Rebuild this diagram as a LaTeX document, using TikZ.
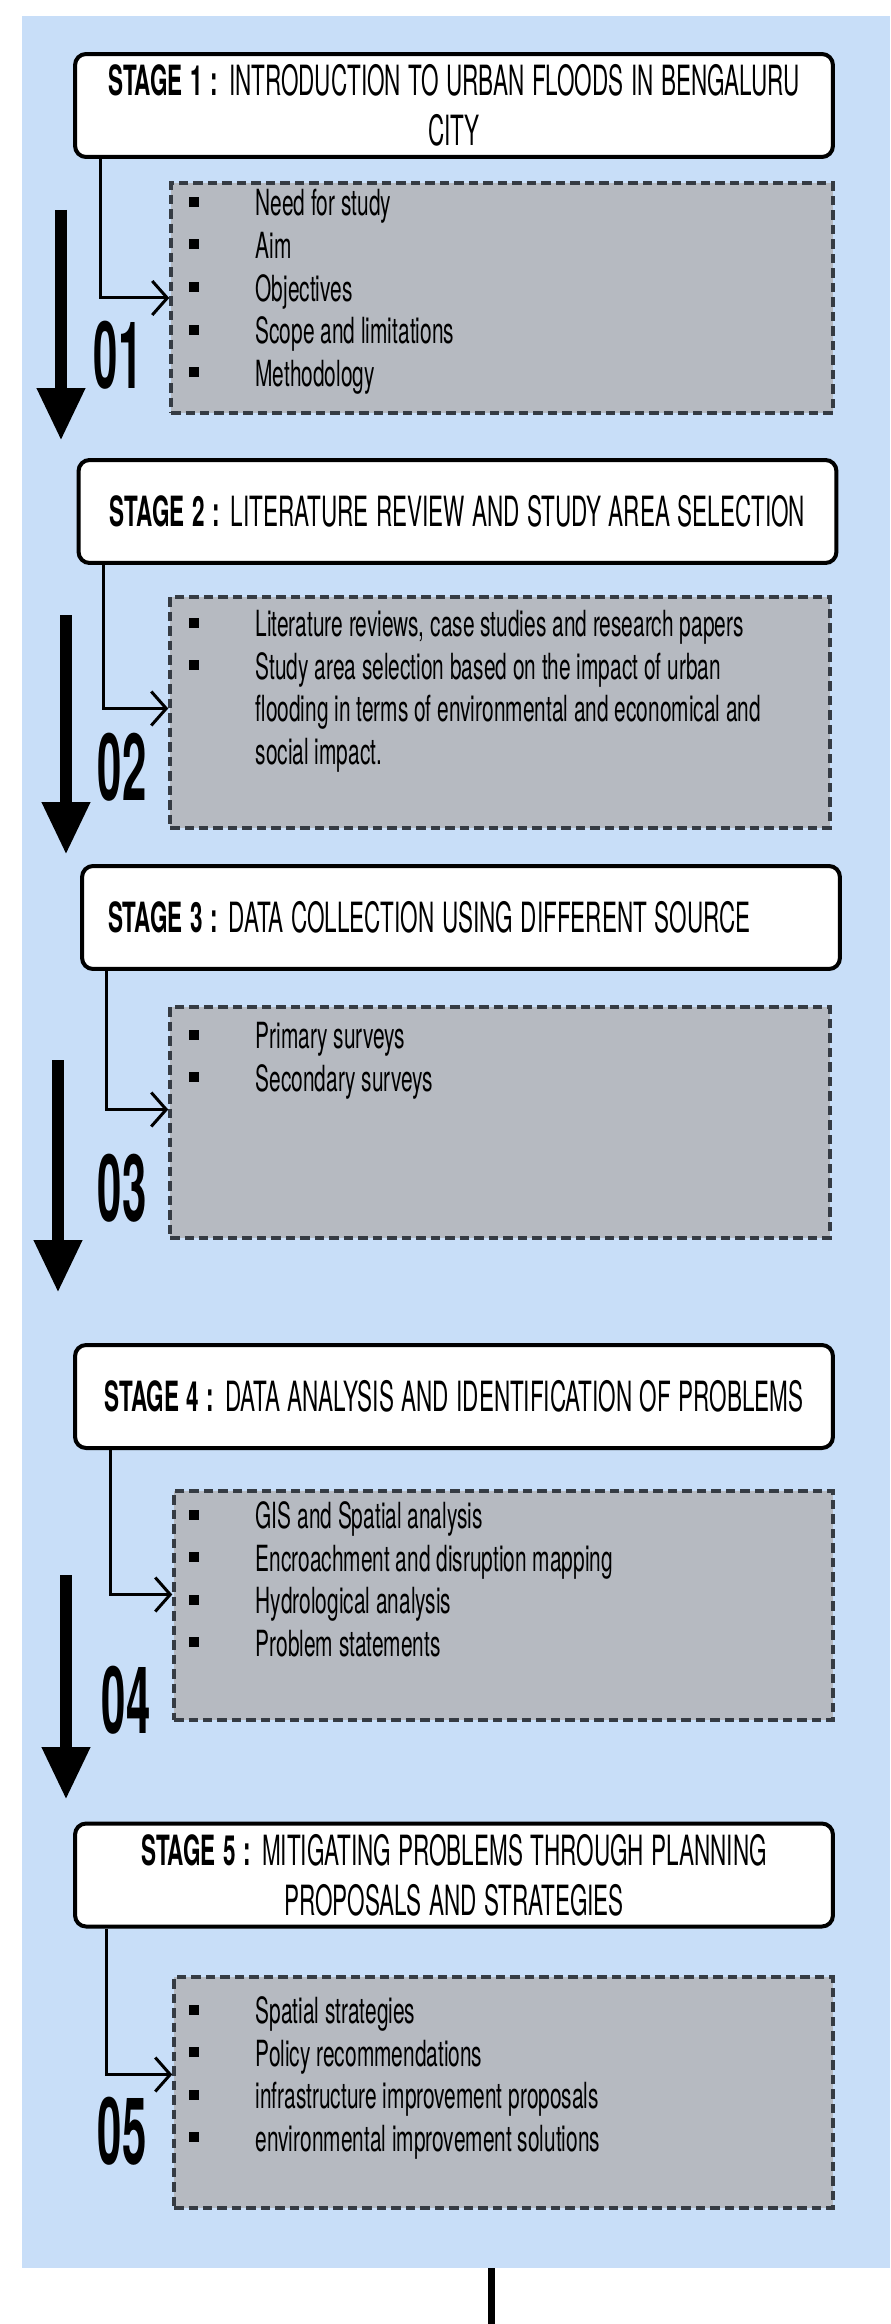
\documentclass[tikz,border=0pt]{standalone}
\usepackage{fontspec}
\setmainfont{TeX Gyre Heros}
\usetikzlibrary{arrows.meta,calc,fit}
\definecolor{bgblue}{HTML}{C8DEF8}
\definecolor{boxgray}{HTML}{B6BAC1}
\definecolor{dgray}{HTML}{353B43}
% narrow lettering
\newcommand\ttlline[1]{\scalebox{0.54}[1]{#1}}
\newcommand\bpt{\makebox[1.34cm][l]{\rule[0.18cm]{0.2cm}{0.2cm}}}
\newcommand\itm[1]{\bpt\scalebox{0.58}[1]{#1}}
\newcommand\cont[1]{\hspace*{1.34cm}\scalebox{0.58}[1]{#1}}
\newcommand\stepno[1]{\scalebox{0.47}[1]{#1}}
\tikzset{
  stage/.style={draw=black,line width=0.08cm,rounded corners=0.22cm,fill=white,
    minimum width=15.16cm,minimum height=2.06cm,text width=14.4cm,align=center,
    inner sep=0pt,font=\fontsize{23.7}{28.5}\selectfont},
  dbox/.style={draw=dgray,fill=boxgray,line width=0.07cm,
    dash pattern=on 0.19cm off 0.1cm,inner sep=0pt},
  items/.style={align=left,inner sep=0pt,anchor=north west,
    font=\fontsize{20.5}{24.2}\selectfont},
  link/.style={-{Straight Barb[length=0.3cm,width=0.68cm]},line width=0.06cm},
  bigarrow/.style={-{Triangle[length=1.06cm,width=0.9cm]},line width=0.26cm},
  stepnum/.style={inner sep=0pt,font=\bfseries\fontsize{53}{53}\selectfont},
}
\begin{document}
\begin{tikzpicture}[x=0.02cm,y=-0.02cm]
  \useasboundingbox (0,0) rectangle (890,2324);
  \fill[bgblue] (22,16) rectangle (890,2268);

  % stage headers
  \node[stage] (s1) at (454,105.5) {\ttlline{\textbf{STAGE 1 :} INTRODUCTION TO URBAN FLOODS IN BENGALURU}\\ \ttlline{CITY}};
  \node[stage] (s2) at (457.5,511.5) {\ttlline{\textbf{STAGE 2 :} LITERATURE REVIEW AND STUDY AREA SELECTION}};
  \node[stage,align=left] (s3) at (461,917.5) {\hspace*{0.14cm}\ttlline{\textbf{STAGE 3 :} DATA COLLECTION USING DIFFERENT SOURCE}};
  \node[stage] (s4) at (454,1396.5) {\ttlline{\textbf{STAGE 4 :} DATA ANALYSIS AND IDENTIFICATION OF PROBLEMS}};
  \node[stage] (s5) at (454,1875) {\ttlline{\textbf{STAGE 5 :} MITIGATING PROBLEMS THROUGH PLANNING}\\ \ttlline{PROPOSALS AND STRATEGIES}};

  % item boxes
  \node[dbox,fit={(171,183) (833,413)}] (d1) {};
  \node[dbox,fit={(170,597) (830,828)}] (d2) {};
  \node[dbox,fit={(170,1007) (830,1238)}] (d3) {};
  \node[dbox,fit={(174,1491) (833,1720)}] (d4) {};
  \node[dbox,fit={(174,1977) (833,2208)}] (d5) {};

  \node[items] (l1) at ($(d1.north west)+(19,8)$) {\itm{Need for study}\\ \itm{Aim}\\
    \itm{Objectives}\\ \itm{Scope and limitations}\\ \itm{Methodology}};
  \node[items] (l2) at ($(d2.north west)+(20,15)$) {\itm{Literature reviews, case studies and research papers}\\
    \itm{Study area selection based on the impact of urban}\\
    \cont{flooding in terms of environmental and economical and}\\ \cont{social impact.}};
  \node[items] (l3) at ($(d3.north west)+(20,17)$) {\itm{Primary surveys}\\ \itm{Secondary surveys}};
  \node[items] (l4) at ($(d4.north west)+(16,12)$) {\itm{GIS and Spatial analysis}\\
    \itm{Encroachment and disruption mapping}\\ \itm{Hydrological analysis}\\ \itm{Problem statements}};
  \node[items] (l5) at ($(d5.north west)+(16,21)$) {\itm{Spatial strategies}\\ \itm{Policy recommendations}\\
    \itm{infrastructure improvement proposals}\\ \itm{environmental improvement solutions}};

  % links
  \draw[link] ($(s1.south west)+(27,0)$) |- (d1.west);
  \draw[link] ($(s2.south west)+(27,0)$) |- ($(d2.west)+(0,-4)$);
  \draw[link] ($(s3.south west)+(26,0)$) |- ($(d3.west)+(0,-13)$);
  \draw[link] ($(s4.south west)+(37,0)$) |- ($(d4.west)+(0,-11)$);
  \draw[link] ($(s5.south west)+(33,0)$) |- ($(d5.west)+(0,-18)$);

  % step numbers and arrows
  \node[stepnum] (n1) at (118,355) {\stepno{01}};
  \node[stepnum] (n2) at (122,767) {\stepno{02}};
  \node[stepnum] (n3) at (122,1188) {\stepno{03}};
  \node[stepnum] (n4) at (126,1700) {\stepno{04}};
  \node[stepnum] (n5) at (122,2131) {\stepno{05}};
  \coordinate (a1s) at (61,210);  \coordinate (a1e) at (61,441);
  \coordinate (a2s) at (66,615);  \coordinate (a2e) at (66,855);
  \coordinate (a3s) at (58,1060); \coordinate (a3e) at (58,1293);
  \coordinate (a4s) at (66,1575); \coordinate (a4e) at (66,1800);
  \foreach \k in {1,...,4} { \draw[bigarrow] (a\k s) -- (a\k e); }

  \coordinate (out1) at (491,2268); \coordinate (out2) at (491,2324);
  \draw[line width=0.14cm] (out1) -- (out2);
\end{tikzpicture}
\end{document}
